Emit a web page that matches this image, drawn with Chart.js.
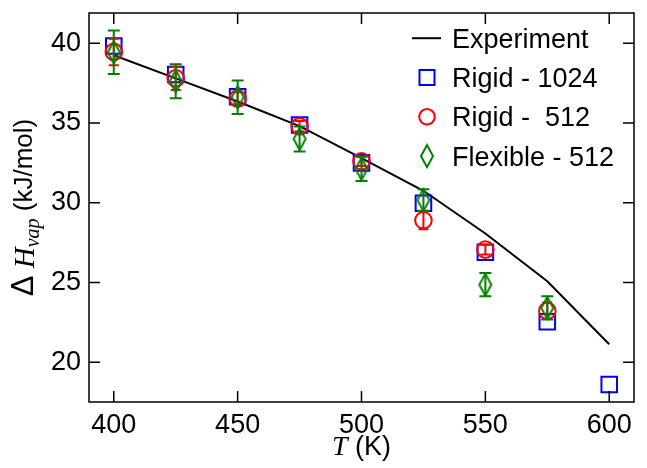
<!DOCTYPE html>
<html><head><meta charset="utf-8">
<script src="https://cdn.jsdelivr.net/npm/chart.js@4.4.1/dist/chart.umd.min.js"></script>
<style>html,body{margin:0;padding:0;background:#fff}#wrap{width:647px;height:468px}</style>
</head><body><div id="wrap"><canvas id="c" width="647" height="468"></canvas></div>
<script>
const temps = [400, 425, 450, 475, 500, 525, 550, 575, 600];
const experiment = [39.25, 37.8, 36.35, 34.8, 32.8, 30.75, 28.07, 25.07, 21.12];
const rigid1024T = [400, 425, 450, 475, 500, 525, 550, 575, 600];
const rigid1024 = [39.83, 38.04, 36.65, 34.87, 32.5, 29.97, 26.89, 22.53, 18.6];
const rigid512T = [400, 425, 450, 475, 500, 525, 550, 575];
const rigid512 = [39.46, 37.8, 36.53, 34.79, 32.6, 28.9, 27.06, 23.22];
const rigid512Err = [0.83, 0.73, 0.4, 0.33, 0.3, 0.56, 0.31, 0.52];
const flex512T = [400, 425, 450, 475, 500, 525, 550, 575];
const flex512 = [39.44, 37.62, 36.62, 34.0, 32.12, 30.17, 24.86, 23.4];
const flex512Err = [1.37, 1.07, 1.05, 0.78, 0.76, 0.67, 0.73, 0.73];
const xTicks = [400, 450, 500, 550, 600];
const yTicks = [20, 25, 30, 35, 40];
const legendLabels = ['Experiment', 'Rigid - 1024', 'Rigid -  512', 'Flexible - 512'];

const BLUE = '#0000ff', RED = '#ff0000', GREEN = '#008000';
const SANS = '"Liberation Sans", Arial, Helvetica, sans-serif';
const SERIF = '"Liberation Serif", "Times New Roman", serif';

function pts(xs, ys) { return xs.map((x, i) => ({x: x, y: ys[i]})); }

function diamondImg() {
  const c = document.createElement('canvas');
  c.width = 16; c.height = 26;
  const g = c.getContext('2d');
  g.strokeStyle = GREEN; g.lineWidth = 2;
  g.beginPath();
  g.moveTo(8, 2); g.lineTo(14, 13); g.lineTo(8, 24); g.lineTo(2, 13); g.closePath();
  g.stroke();
  return c;
}
const diamond = diamondImg();

const errorBars = {
  id: 'errorBars',
  afterDatasetDraw(chart, args) {
    const ds = chart.data.datasets[args.index];
    if (!ds.errors) return;
    const ctx = chart.ctx, y = chart.scales.y;
    ctx.save();
    ctx.strokeStyle = ds.borderColor; ctx.lineWidth = 2;
    ctx.beginPath();
    args.meta.data.forEach((el, i) => {
      const v = ds.data[i].y, e = ds.errors[i];
      const t = y.getPixelForValue(v + e), b = y.getPixelForValue(v - e);
      const w = ds.capHalf;
      ctx.moveTo(el.x, t); ctx.lineTo(el.x, b);
      ctx.moveTo(el.x - w, t); ctx.lineTo(el.x + w, t);
      ctx.moveTo(el.x - w, b); ctx.lineTo(el.x + w, b);
    });
    ctx.stroke();
    ctx.restore();
  }
};

const frame = {
  id: 'frame',
  afterDraw(chart) {
    const {ctx, chartArea: a, scales: {x, y}} = chart;
    ctx.save();
    ctx.strokeStyle = '#000'; ctx.lineWidth = 1.5;
    ctx.strokeRect(a.left, a.top, a.right - a.left, a.bottom - a.top);
    const L = 11;
    ctx.beginPath();
    x.ticks.forEach(t => {
      const p = x.getPixelForValue(t.value);
      ctx.moveTo(p, a.bottom); ctx.lineTo(p, a.bottom - L);
      ctx.moveTo(p, a.top); ctx.lineTo(p, a.top + L);
    });
    y.ticks.forEach(t => {
      const p = y.getPixelForValue(t.value);
      ctx.moveTo(a.left, p); ctx.lineTo(a.left + L, p);
      ctx.moveTo(a.right, p); ctx.lineTo(a.right - L, p);
    });
    ctx.stroke();

    // legend
    const mx = a.right - 207, tx = a.right - 182;
    ctx.fillStyle = '#000';
    ctx.font = '27px ' + SANS;
    ctx.textBaseline = 'alphabetic';
    ctx.textAlign = 'left';
    legendLabels.forEach((lab, i) => {
      const base = 47.7 + 39.3 * i;
      const cy = base - 9.5;
      ctx.fillText(lab, tx, base);
      ctx.lineWidth = 2;
      if (i === 0) {
        ctx.strokeStyle = '#000';
        ctx.beginPath(); ctx.moveTo(mx - 15, cy); ctx.lineTo(mx + 14, cy); ctx.stroke();
      } else if (i === 1) {
        ctx.strokeStyle = BLUE; ctx.strokeRect(mx - 7.5, cy - 7.5, 15, 15);
      } else if (i === 2) {
        ctx.strokeStyle = RED; ctx.beginPath(); ctx.arc(mx, cy, 7.8, 0, Math.PI * 2); ctx.stroke();
      } else {
        ctx.drawImage(diamond, mx - 8, cy - 13);
      }
    });

    // x title
    const parts = [
      {t: 'T', f: 'italic 28px ' + SERIF, dy: 0},
      {t: ' (K)', f: '27px ' + SANS, dy: 0}
    ];
    drawParts(ctx, parts, (a.left + a.right) / 2, 455);

    // y title
    ctx.save();
    ctx.translate(32, (a.top + a.bottom) / 2);
    ctx.rotate(-Math.PI / 2);
    const yparts = [
      {t: '\u0394', f: '31px ' + SANS, dy: 1},
      {t: ' ', f: '26px ' + SANS, dy: 0},
      {t: 'H', f: 'italic 29px ' + SERIF, dy: 2},
      {t: 'vap', f: 'italic 20px ' + SERIF, dy: 7},
      {t: ' (kJ/mol)', f: '26px ' + SANS, dy: 0}
    ];
    drawParts(ctx, yparts, 0, 0);
    ctx.restore();
    ctx.restore();
  }
};

function drawParts(ctx, parts, cx, base) {
  let total = 0;
  parts.forEach(p => { ctx.font = p.f; p.w = ctx.measureText(p.t).width; total += p.w; });
  let x = cx - total / 2;
  ctx.textAlign = 'left'; ctx.textBaseline = 'alphabetic'; ctx.fillStyle = '#000';
  parts.forEach(p => { ctx.font = p.f; ctx.fillText(p.t, x, base + p.dy); x += p.w; });
}

function zeroPad(s) { s.paddingTop = 0; s.paddingBottom = 0; s.paddingLeft = 0; s.paddingRight = 0; }

new Chart(document.getElementById('c'), {
  type: 'scatter',
  data: {
    datasets: [
      {label: legendLabels[0], type: 'line', data: pts(temps, experiment), borderColor: '#000',
       borderWidth: 2, pointRadius: 0, fill: false, tension: 0, order: 4},
      {label: legendLabels[1], data: pts(rigid1024T, rigid1024), borderColor: BLUE, backgroundColor: 'rgba(0,0,0,0)',
       pointStyle: 'rect', pointRadius: 11, borderWidth: 2, order: 3},
      {label: legendLabels[2], data: pts(rigid512T, rigid512), errors: rigid512Err, capHalf: 5, borderColor: RED,
       backgroundColor: 'rgba(0,0,0,0)', pointStyle: 'circle', pointRadius: 8.3, borderWidth: 2, order: 2},
      {label: legendLabels[3], data: pts(flex512T, flex512), errors: flex512Err, capHalf: 6, borderColor: GREEN,
       backgroundColor: 'rgba(0,0,0,0)', pointStyle: diamond, pointRadius: 10, borderWidth: 2, order: 1}
    ]
  },
  options: {
    responsive: false, animation: false, devicePixelRatio: 1, events: [],
    layout: {padding: {top: 11, right: 11, left: 0, bottom: 0}},
    plugins: {legend: {display: false}, tooltip: {enabled: false}},
    scales: {
      x: {type: 'linear', min: 390, max: 610,
          afterBuildTicks: s => { s.ticks = xTicks.map(v => ({value: v})); },
          afterFit: s => { s.height = 66; zeroPad(s); },
          grid: {display: false, drawTicks: false}, border: {display: false},
          ticks: {color: '#000', font: {family: SANS, size: 27}, padding: 7, maxRotation: 0}},
      y: {type: 'linear', min: 17.5, max: 41.9,
          afterBuildTicks: s => { s.ticks = yTicks.map(v => ({value: v})); },
          afterFit: s => { s.width = 89; zeroPad(s); },
          grid: {display: false, drawTicks: false}, border: {display: false},
          ticks: {color: '#000', font: {family: SANS, size: 27}, padding: 8}}
    }
  },
  plugins: [errorBars, frame]
});
</script>
</body></html>
